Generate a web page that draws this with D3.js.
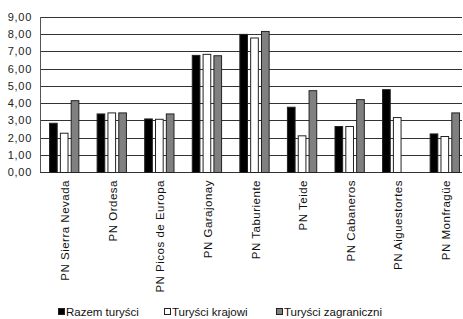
<!DOCTYPE html>
<html>
<head>
<meta charset="utf-8">
<script src="https://cdn.jsdelivr.net/npm/d3@7"></script>
<style>
  body { margin: 0; background: #fff; }
  text { font-family: "Liberation Sans", Arial, sans-serif; }
</style>
</head>
<body>
<div id="chart"></div>
<script>
'use strict';

// chart data
var parks = ['PN Sierra Nevada', 'PN Ordesa', 'PN Picos de Europa', 'PN Garajonay',
  'PN Taburiente', 'PN Teide', 'PN Cabaneros', 'PN Aiguestortes', 'PN Monfragüe'];
var seriesNames = ['Razem turyści', 'Turyści krajowi', 'Turyści zagraniczni'];
var razem = [2.86, 3.40, 3.11, 6.80, 8.02, 3.79, 2.67, 4.81, 2.24];
var krajowi = [2.28, 3.46, 3.09, 6.86, 7.81, 2.13, 2.67, 3.19, 2.09];
var zagraniczni = [4.17, 3.46, 3.40, 6.78, 8.19, 4.75, 4.23, null, 3.46];
var yTicks = [0, 1, 2, 3, 4, 5, 6, 7, 8, 9];
var fills = ['#000000', '#ffffff', '#808080'];

var width = 463, height = 319;
var margin = {top: 17, right: 1, bottom: 147, left: 40};

var svg = d3.select('#chart').append('svg')
  .attr('width', width)
  .attr('height', height);

// the category bands run a little past the right edge, like the original
var x = d3.scaleBand()
  .domain(parks)
  .range([margin.left, 469])
  .paddingInner(0.363)
  .paddingOuter(0.19);

var x1 = d3.scaleBand()
  .domain(d3.range(seriesNames.length))
  .range([0, x.bandwidth()])
  .paddingInner(0.2);

var y = d3.scaleLinear()
  .domain([0, 9])
  .range([height - margin.bottom, margin.top]);

var fmt = function (d) { return d3.format('.2f')(d).replace('.', ','); };

// gridlines
svg.append('g')
  .selectAll('line')
  .data(yTicks)
  .enter()
  .append('line')
  .attr('x1', margin.left)
  .attr('x2', width - margin.right)
  .attr('y1', function (d) { return Math.round(y(d)) + 0.5; })
  .attr('y2', function (d) { return Math.round(y(d)) + 0.5; })
  .attr('stroke', '#333')
  .attr('stroke-width', 1);

// y axis labels
svg.append('g')
  .selectAll('text')
  .data(yTicks)
  .enter()
  .append('text')
  .attr('x', 32)
  .attr('y', function (d) { return Math.round(y(d)) + 4; })
  .attr('text-anchor', 'end')
  .attr('font-size', 11)
  .attr('letter-spacing', 0.7)
  .attr('fill', '#222')
  .text(fmt);

svg.append('line')
  .attr('x1', margin.left + 0.5)
  .attr('x2', margin.left + 0.5)
  .attr('y1', y(9))
  .attr('y2', y(0))
  .attr('stroke', '#555');

// bars
var rows = parks.map(function (p, i) {
  return {park: p, values: [razem[i], krajowi[i], zagraniczni[i]]};
});

var groups = svg.append('g')
  .selectAll('g')
  .data(rows)
  .enter()
  .append('g')
  .attr('transform', function (d) { return 'translate(' + x(d.park) + ',0)'; });

groups.selectAll('rect')
  .data(function (d) {
    return d.values.map(function (v, j) { return {v: v, j: j}; })
      .filter(function (e) { return e.v !== null; });
  })
  .enter()
  .append('rect')
  .attr('x', function (d) { return x1(d.j) + 0.5; })
  .attr('y', function (d) { return y(d.v) + 0.5; })
  .attr('width', x1.bandwidth() - 1)
  .attr('height', function (d) { return y(0) - y(d.v); })
  .attr('fill', function (d) { return fills[d.j]; })
  .attr('stroke', '#222')
  .attr('stroke-width', 1);

// x labels
svg.append('g')
  .selectAll('text')
  .data(parks)
  .enter()
  .append('text')
  .attr('transform', function (d) {
    return 'translate(' + (x(d) + x.bandwidth() / 2 + 5) + ',' + (y(0) + 8) + ') rotate(-90)';
  })
  .attr('text-anchor', 'end')
  .attr('font-size', 11.5)
  .attr('letter-spacing', 0.5)
  .attr('fill', '#111')
  .text(function (d) { return d; });

// legend
var legendX = [58, 164, 276];
var legend = svg.append('g')
  .selectAll('g')
  .data(seriesNames)
  .enter()
  .append('g')
  .attr('transform', function (d, i) { return 'translate(' + legendX[i] + ',308)'; });

legend.append('rect')
  .attr('x', 0.5)
  .attr('y', 0.5)
  .attr('width', 6)
  .attr('height', 6)
  .attr('fill', function (d, i) { return fills[i]; })
  .attr('stroke', '#222');

legend.append('text')
  .attr('x', 8)
  .attr('y', 8)
  .attr('font-size', 11.5)
  .attr('fill', '#111')
  .text(function (d) { return d; });
</script>
</body>
</html>
